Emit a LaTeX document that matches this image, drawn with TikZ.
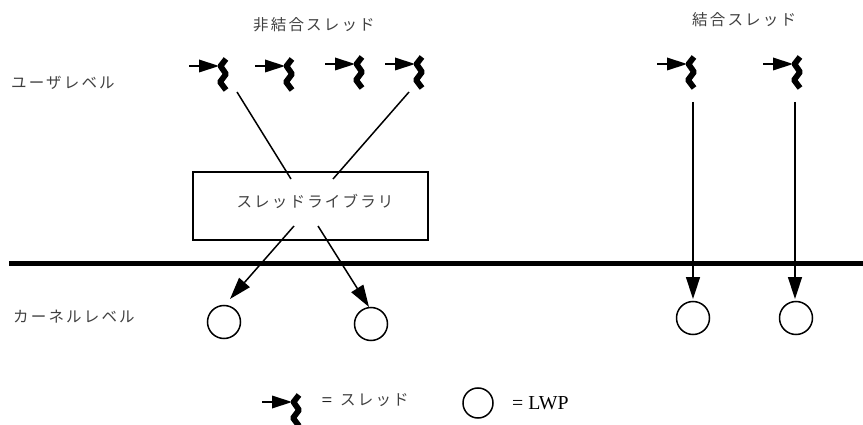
\documentclass[tikz,border=0pt]{standalone}
\usepackage{fontspec}
\setmainfont{Liberation Serif}
\newfontfamily\jpfont[LetterSpace=14]{Noto Sans CJK JP}
\usetikzlibrary{arrows}
\usetikzlibrary{arrows.meta}
\tikzset{
	threadmark/.pic={
		\draw [line width=1.5] (-30,0) -- (-20,0);
		\fill (-20,-6.5) -- (0,0) -- (-20,6.5) -- cycle;
		\draw [line width=5.8,line join=bevel] (7,-7) -- (1.5,0) -- (7,8) -- (1,16) -- (7,24);
	},
	lwp/.style={draw,circle,line width=1.5,minimum size=33,inner sep=0},
	label/.style={font=\jpfont\fontsize{15.5}{17}\selectfont,text=black!75,inner sep=0},
	link/.style={line width=1.5},
	linkarrow/.style={line width=1.5,-{Triangle[length=22,width=14]}}
}
\begin{document}
\begin{tikzpicture}[x=1pt,y=-1pt]
	\useasboundingbox (0,0) rectangle (863,425);
	% labels
	\node (unbound) [label,anchor=west] at (253,25) {非結合スレッド};
	\node (bound) [label,anchor=west] at (692,20) {結合スレッド};
	\node (user) [label,anchor=west] at (11,83) {ユーザレベル};
	\node (kernel) [label,anchor=west] at (13,317) {カーネルレベル};
	% threads
	\pic at (219,66) {threadmark};
	\pic at (285,66) {threadmark};
	\pic at (355,64) {threadmark};
	\pic at (415,64) {threadmark};
	\pic at (687,64) {threadmark};
	\pic at (793,64) {threadmark};
	% library
	\node (library) [draw,line width=1.5,minimum width=235,minimum height=68,inner sep=0] at (310.5,206) {};
	\node (libtext) [label] at (315,201) {スレッドライブラリ};
	% kernel line
	\coordinate (left) at (9,263.5);
	\coordinate (right) at (863,263.5);
	\draw [line width=5.7] (left) -- (right);
	% lwps
	\node (lwpa) [lwp] at (224,322) {};
	\node (lwpb) [lwp] at (371,324) {};
	\node (lwpc) [lwp] at (693,318) {};
	\node (lwpd) [lwp] at (796,318) {};
	% connectors
	\coordinate (ta) at (237,92);
	\coordinate (tb) at (409,92);
	\coordinate (tc) at (693,102);
	\coordinate (td) at (795,102);
	\coordinate (ina) at (291,179);
	\coordinate (inb) at (333,179);
	\coordinate (outa) at (294,226);
	\coordinate (outb) at (318,226);
	\coordinate (enda) at (230,299);
	\coordinate (endb) at (369,307);
	\coordinate (endc) at (693,299);
	\coordinate (endd) at (795,299);
	\draw [link] (ta) -- (ina);
	\draw [link] (tb) -- (inb);
	\draw [linkarrow] (outa) -- (enda);
	\draw [linkarrow] (outb) -- (endb);
	\draw [linkarrow] (tc) -- (endc);
	\draw [linkarrow] (td) -- (endd);
	% legend
	\pic at (292,402) {threadmark};
	\node (eqthread) [inner sep=0,font=\fontsize{19}{21}\selectfont] at (327,402) {=};
	\node (thread) [label,anchor=west] at (340,400) {スレッド};
	\node (lwpe) [lwp,minimum size=30] at (478,403) {};
	\node (lwptext) [inner sep=0,anchor=west,font=\fontsize{19.8}{22}\selectfont] at (512,403) {= LWP};
\end{tikzpicture}
\end{document}
